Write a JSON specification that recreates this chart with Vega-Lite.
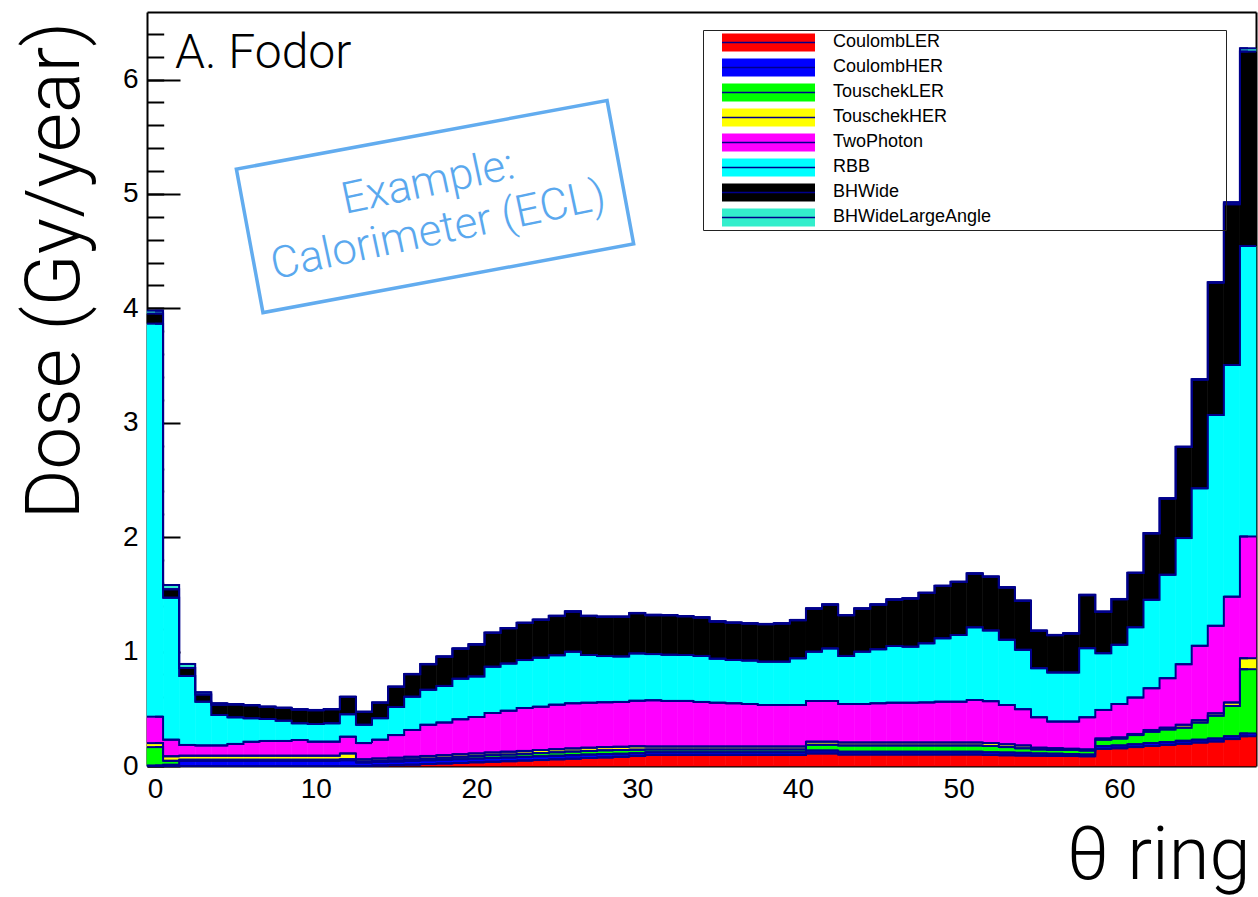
{
  "$schema": "https://vega.github.io/schema/vega-lite/v6.json",
  "width": 1109,
  "height": 754,
  "autosize": {"type": "none"},
  "padding": {"left": 147, "top": 12, "right": 2, "bottom": 131},
  "background": "white",
  "config": {
    "view": {"stroke": null},
    "axis": {"zindex": 1, "grid": false, "tickColor": "black", "domainColor": "black", "labelColor": "black", "titleColor": "black", "labelFont": "Liberation Sans", "titleFont": "Roboto"}
  },
  "datasets": {
    "dose": [
      {"ring":0,"source":"CoulombLER","dose":0},{"ring":1,"source":"CoulombLER","dose":0},{"ring":2,"source":"CoulombLER","dose":0},{"ring":3,"source":"CoulombLER","dose":0},{"ring":4,"source":"CoulombLER","dose":0},{"ring":5,"source":"CoulombLER","dose":0},{"ring":6,"source":"CoulombLER","dose":0},{"ring":7,"source":"CoulombLER","dose":0},{"ring":8,"source":"CoulombLER","dose":0},{"ring":9,"source":"CoulombLER","dose":0},
      {"ring":10,"source":"CoulombLER","dose":0},{"ring":11,"source":"CoulombLER","dose":0},{"ring":12,"source":"CoulombLER","dose":0},{"ring":13,"source":"CoulombLER","dose":0},{"ring":14,"source":"CoulombLER","dose":0.005},{"ring":15,"source":"CoulombLER","dose":0.008},{"ring":16,"source":"CoulombLER","dose":0.012},{"ring":17,"source":"CoulombLER","dose":0.017},{"ring":18,"source":"CoulombLER","dose":0.022},{"ring":19,"source":"CoulombLER","dose":0.027},
      {"ring":20,"source":"CoulombLER","dose":0.032},{"ring":21,"source":"CoulombLER","dose":0.037},{"ring":22,"source":"CoulombLER","dose":0.042},{"ring":23,"source":"CoulombLER","dose":0.047},{"ring":24,"source":"CoulombLER","dose":0.052},{"ring":25,"source":"CoulombLER","dose":0.058},{"ring":26,"source":"CoulombLER","dose":0.064},{"ring":27,"source":"CoulombLER","dose":0.07},{"ring":28,"source":"CoulombLER","dose":0.075},{"ring":29,"source":"CoulombLER","dose":0.08},
      {"ring":30,"source":"CoulombLER","dose":0.087},{"ring":31,"source":"CoulombLER","dose":0.096},{"ring":32,"source":"CoulombLER","dose":0.096},{"ring":33,"source":"CoulombLER","dose":0.096},{"ring":34,"source":"CoulombLER","dose":0.096},{"ring":35,"source":"CoulombLER","dose":0.096},{"ring":36,"source":"CoulombLER","dose":0.096},{"ring":37,"source":"CoulombLER","dose":0.096},{"ring":38,"source":"CoulombLER","dose":0.096},{"ring":39,"source":"CoulombLER","dose":0.096},
      {"ring":40,"source":"CoulombLER","dose":0.096},{"ring":41,"source":"CoulombLER","dose":0.11},{"ring":42,"source":"CoulombLER","dose":0.11},{"ring":43,"source":"CoulombLER","dose":0.1},{"ring":44,"source":"CoulombLER","dose":0.1},{"ring":45,"source":"CoulombLER","dose":0.1},{"ring":46,"source":"CoulombLER","dose":0.1},{"ring":47,"source":"CoulombLER","dose":0.1},{"ring":48,"source":"CoulombLER","dose":0.1},{"ring":49,"source":"CoulombLER","dose":0.1},
      {"ring":50,"source":"CoulombLER","dose":0.1},{"ring":51,"source":"CoulombLER","dose":0.1},{"ring":52,"source":"CoulombLER","dose":0.096},{"ring":53,"source":"CoulombLER","dose":0.094},{"ring":54,"source":"CoulombLER","dose":0.092},{"ring":55,"source":"CoulombLER","dose":0.09},{"ring":56,"source":"CoulombLER","dose":0.088},{"ring":57,"source":"CoulombLER","dose":0.087},{"ring":58,"source":"CoulombLER","dose":0.085},{"ring":59,"source":"CoulombLER","dose":0.15},
      {"ring":60,"source":"CoulombLER","dose":0.155},{"ring":61,"source":"CoulombLER","dose":0.165},{"ring":62,"source":"CoulombLER","dose":0.175},{"ring":63,"source":"CoulombLER","dose":0.185},{"ring":64,"source":"CoulombLER","dose":0.195},{"ring":65,"source":"CoulombLER","dose":0.205},{"ring":66,"source":"CoulombLER","dose":0.215},{"ring":67,"source":"CoulombLER","dose":0.235},{"ring":68,"source":"CoulombLER","dose":0.26},

      {"ring":0,"source":"CoulombHER","dose":0.005},{"ring":1,"source":"CoulombHER","dose":0.01},{"ring":2,"source":"CoulombHER","dose":0.045},{"ring":3,"source":"CoulombHER","dose":0.045},{"ring":4,"source":"CoulombHER","dose":0.045},{"ring":5,"source":"CoulombHER","dose":0.045},{"ring":6,"source":"CoulombHER","dose":0.045},{"ring":7,"source":"CoulombHER","dose":0.045},{"ring":8,"source":"CoulombHER","dose":0.045},{"ring":9,"source":"CoulombHER","dose":0.045},
      {"ring":10,"source":"CoulombHER","dose":0.045},{"ring":11,"source":"CoulombHER","dose":0.045},{"ring":12,"source":"CoulombHER","dose":0.05},{"ring":13,"source":"CoulombHER","dose":0.03},{"ring":14,"source":"CoulombHER","dose":0.03},{"ring":15,"source":"CoulombHER","dose":0.032},{"ring":16,"source":"CoulombHER","dose":0.033},{"ring":17,"source":"CoulombHER","dose":0.033},{"ring":18,"source":"CoulombHER","dose":0.033},{"ring":19,"source":"CoulombHER","dose":0.033},
      {"ring":20,"source":"CoulombHER","dose":0.033},{"ring":21,"source":"CoulombHER","dose":0.033},{"ring":22,"source":"CoulombHER","dose":0.033},{"ring":23,"source":"CoulombHER","dose":0.033},{"ring":24,"source":"CoulombHER","dose":0.033},{"ring":25,"source":"CoulombHER","dose":0.032},{"ring":26,"source":"CoulombHER","dose":0.031},{"ring":27,"source":"CoulombHER","dose":0.03},{"ring":28,"source":"CoulombHER","dose":0.029},{"ring":29,"source":"CoulombHER","dose":0.027},
      {"ring":30,"source":"CoulombHER","dose":0.025},{"ring":31,"source":"CoulombHER","dose":0.024},{"ring":32,"source":"CoulombHER","dose":0.024},{"ring":33,"source":"CoulombHER","dose":0.024},{"ring":34,"source":"CoulombHER","dose":0.024},{"ring":35,"source":"CoulombHER","dose":0.024},{"ring":36,"source":"CoulombHER","dose":0.024},{"ring":37,"source":"CoulombHER","dose":0.024},{"ring":38,"source":"CoulombHER","dose":0.024},{"ring":39,"source":"CoulombHER","dose":0.024},
      {"ring":40,"source":"CoulombHER","dose":0.024},{"ring":41,"source":"CoulombHER","dose":0.025},{"ring":42,"source":"CoulombHER","dose":0.025},{"ring":43,"source":"CoulombHER","dose":0.025},{"ring":44,"source":"CoulombHER","dose":0.025},{"ring":45,"source":"CoulombHER","dose":0.025},{"ring":46,"source":"CoulombHER","dose":0.025},{"ring":47,"source":"CoulombHER","dose":0.025},{"ring":48,"source":"CoulombHER","dose":0.025},{"ring":49,"source":"CoulombHER","dose":0.025},
      {"ring":50,"source":"CoulombHER","dose":0.025},{"ring":51,"source":"CoulombHER","dose":0.025},{"ring":52,"source":"CoulombHER","dose":0.024},{"ring":53,"source":"CoulombHER","dose":0.024},{"ring":54,"source":"CoulombHER","dose":0.023},{"ring":55,"source":"CoulombHER","dose":0.02},{"ring":56,"source":"CoulombHER","dose":0.02},{"ring":57,"source":"CoulombHER","dose":0.018},{"ring":58,"source":"CoulombHER","dose":0.015},{"ring":59,"source":"CoulombHER","dose":0.025},
      {"ring":60,"source":"CoulombHER","dose":0.025},{"ring":61,"source":"CoulombHER","dose":0.025},{"ring":62,"source":"CoulombHER","dose":0.025},{"ring":63,"source":"CoulombHER","dose":0.025},{"ring":64,"source":"CoulombHER","dose":0.025},{"ring":65,"source":"CoulombHER","dose":0.025},{"ring":66,"source":"CoulombHER","dose":0.025},{"ring":67,"source":"CoulombHER","dose":0.025},{"ring":68,"source":"CoulombHER","dose":0.025},

      {"ring":0,"source":"TouschekLER","dose":0.16},{"ring":1,"source":"TouschekLER","dose":0.035},{"ring":2,"source":"TouschekLER","dose":0.01},{"ring":3,"source":"TouschekLER","dose":0.01},{"ring":4,"source":"TouschekLER","dose":0.01},{"ring":5,"source":"TouschekLER","dose":0.01},{"ring":6,"source":"TouschekLER","dose":0.01},{"ring":7,"source":"TouschekLER","dose":0.01},{"ring":8,"source":"TouschekLER","dose":0.01},{"ring":9,"source":"TouschekLER","dose":0.01},
      {"ring":10,"source":"TouschekLER","dose":0.01},{"ring":11,"source":"TouschekLER","dose":0.01},{"ring":12,"source":"TouschekLER","dose":0.01},{"ring":13,"source":"TouschekLER","dose":0.01},{"ring":14,"source":"TouschekLER","dose":0.01},{"ring":15,"source":"TouschekLER","dose":0.01},{"ring":16,"source":"TouschekLER","dose":0.013},{"ring":17,"source":"TouschekLER","dose":0.015},{"ring":18,"source":"TouschekLER","dose":0.017},{"ring":19,"source":"TouschekLER","dose":0.02},
      {"ring":20,"source":"TouschekLER","dose":0.023},{"ring":21,"source":"TouschekLER","dose":0.025},{"ring":22,"source":"TouschekLER","dose":0.025},{"ring":23,"source":"TouschekLER","dose":0.027},{"ring":24,"source":"TouschekLER","dose":0.028},{"ring":25,"source":"TouschekLER","dose":0.03},{"ring":26,"source":"TouschekLER","dose":0.031},{"ring":27,"source":"TouschekLER","dose":0.032},{"ring":28,"source":"TouschekLER","dose":0.033},{"ring":29,"source":"TouschekLER","dose":0.033},
      {"ring":30,"source":"TouschekLER","dose":0.031},{"ring":31,"source":"TouschekLER","dose":0.025},{"ring":32,"source":"TouschekLER","dose":0.025},{"ring":33,"source":"TouschekLER","dose":0.025},{"ring":34,"source":"TouschekLER","dose":0.025},{"ring":35,"source":"TouschekLER","dose":0.025},{"ring":36,"source":"TouschekLER","dose":0.025},{"ring":37,"source":"TouschekLER","dose":0.025},{"ring":38,"source":"TouschekLER","dose":0.025},{"ring":39,"source":"TouschekLER","dose":0.025},
      {"ring":40,"source":"TouschekLER","dose":0.025},{"ring":41,"source":"TouschekLER","dose":0.05},{"ring":42,"source":"TouschekLER","dose":0.05},{"ring":43,"source":"TouschekLER","dose":0.055},{"ring":44,"source":"TouschekLER","dose":0.055},{"ring":45,"source":"TouschekLER","dose":0.055},{"ring":46,"source":"TouschekLER","dose":0.055},{"ring":47,"source":"TouschekLER","dose":0.055},{"ring":48,"source":"TouschekLER","dose":0.055},{"ring":49,"source":"TouschekLER","dose":0.055},
      {"ring":50,"source":"TouschekLER","dose":0.055},{"ring":51,"source":"TouschekLER","dose":0.055},{"ring":52,"source":"TouschekLER","dose":0.055},{"ring":53,"source":"TouschekLER","dose":0.047},{"ring":54,"source":"TouschekLER","dose":0.04},{"ring":55,"source":"TouschekLER","dose":0.035},{"ring":56,"source":"TouschekLER","dose":0.032},{"ring":57,"source":"TouschekLER","dose":0.035},{"ring":58,"source":"TouschekLER","dose":0.035},{"ring":59,"source":"TouschekLER","dose":0.055},
      {"ring":60,"source":"TouschekLER","dose":0.06},{"ring":61,"source":"TouschekLER","dose":0.08},{"ring":62,"source":"TouschekLER","dose":0.1},{"ring":63,"source":"TouschekLER","dose":0.11},{"ring":64,"source":"TouschekLER","dose":0.115},{"ring":65,"source":"TouschekLER","dose":0.15},{"ring":66,"source":"TouschekLER","dose":0.2},{"ring":67,"source":"TouschekLER","dose":0.265},{"ring":68,"source":"TouschekLER","dose":0.561},

      {"ring":0,"source":"TouschekHER","dose":0.035},{"ring":1,"source":"TouschekHER","dose":0.04},{"ring":2,"source":"TouschekHER","dose":0.035},{"ring":3,"source":"TouschekHER","dose":0.035},{"ring":4,"source":"TouschekHER","dose":0.035},{"ring":5,"source":"TouschekHER","dose":0.035},{"ring":6,"source":"TouschekHER","dose":0.035},{"ring":7,"source":"TouschekHER","dose":0.035},{"ring":8,"source":"TouschekHER","dose":0.035},{"ring":9,"source":"TouschekHER","dose":0.035},
      {"ring":10,"source":"TouschekHER","dose":0.035},{"ring":11,"source":"TouschekHER","dose":0.035},{"ring":12,"source":"TouschekHER","dose":0.05},{"ring":13,"source":"TouschekHER","dose":0.018},{"ring":14,"source":"TouschekHER","dose":0.02},{"ring":15,"source":"TouschekHER","dose":0.022},{"ring":16,"source":"TouschekHER","dose":0.022},{"ring":17,"source":"TouschekHER","dose":0.023},{"ring":18,"source":"TouschekHER","dose":0.023},{"ring":19,"source":"TouschekHER","dose":0.023},
      {"ring":20,"source":"TouschekHER","dose":0.022},{"ring":21,"source":"TouschekHER","dose":0.023},{"ring":22,"source":"TouschekHER","dose":0.025},{"ring":23,"source":"TouschekHER","dose":0.025},{"ring":24,"source":"TouschekHER","dose":0.027},{"ring":25,"source":"TouschekHER","dose":0.027},{"ring":26,"source":"TouschekHER","dose":0.028},{"ring":27,"source":"TouschekHER","dose":0.028},{"ring":28,"source":"TouschekHER","dose":0.028},{"ring":29,"source":"TouschekHER","dose":0.028},
      {"ring":30,"source":"TouschekHER","dose":0.029},{"ring":31,"source":"TouschekHER","dose":0.025},{"ring":32,"source":"TouschekHER","dose":0.025},{"ring":33,"source":"TouschekHER","dose":0.025},{"ring":34,"source":"TouschekHER","dose":0.025},{"ring":35,"source":"TouschekHER","dose":0.025},{"ring":36,"source":"TouschekHER","dose":0.025},{"ring":37,"source":"TouschekHER","dose":0.025},{"ring":38,"source":"TouschekHER","dose":0.025},{"ring":39,"source":"TouschekHER","dose":0.025},
      {"ring":40,"source":"TouschekHER","dose":0.025},{"ring":41,"source":"TouschekHER","dose":0.028},{"ring":42,"source":"TouschekHER","dose":0.028},{"ring":43,"source":"TouschekHER","dose":0.025},{"ring":44,"source":"TouschekHER","dose":0.025},{"ring":45,"source":"TouschekHER","dose":0.025},{"ring":46,"source":"TouschekHER","dose":0.025},{"ring":47,"source":"TouschekHER","dose":0.025},{"ring":48,"source":"TouschekHER","dose":0.025},{"ring":49,"source":"TouschekHER","dose":0.025},
      {"ring":50,"source":"TouschekHER","dose":0.025},{"ring":51,"source":"TouschekHER","dose":0.025},{"ring":52,"source":"TouschekHER","dose":0.025},{"ring":53,"source":"TouschekHER","dose":0.025},{"ring":54,"source":"TouschekHER","dose":0.025},{"ring":55,"source":"TouschekHER","dose":0.015},{"ring":56,"source":"TouschekHER","dose":0.015},{"ring":57,"source":"TouschekHER","dose":0.01},{"ring":58,"source":"TouschekHER","dose":0.01},{"ring":59,"source":"TouschekHER","dose":0.01},
      {"ring":60,"source":"TouschekHER","dose":0.01},{"ring":61,"source":"TouschekHER","dose":0.01},{"ring":62,"source":"TouschekHER","dose":0.015},{"ring":63,"source":"TouschekHER","dose":0.015},{"ring":64,"source":"TouschekHER","dose":0.025},{"ring":65,"source":"TouschekHER","dose":0.02},{"ring":66,"source":"TouschekHER","dose":0.02},{"ring":67,"source":"TouschekHER","dose":0.03},{"ring":68,"source":"TouschekHER","dose":0.096},

      {"ring":0,"source":"TwoPhoton","dose":0.231},{"ring":1,"source":"TwoPhoton","dose":0.145},{"ring":2,"source":"TwoPhoton","dose":0.094},{"ring":3,"source":"TwoPhoton","dose":0.09},{"ring":4,"source":"TwoPhoton","dose":0.09},{"ring":5,"source":"TwoPhoton","dose":0.103},{"ring":6,"source":"TwoPhoton","dose":0.121},{"ring":7,"source":"TwoPhoton","dose":0.129},{"ring":8,"source":"TwoPhoton","dose":0.129},{"ring":9,"source":"TwoPhoton","dose":0.137},
      {"ring":10,"source":"TwoPhoton","dose":0.123},{"ring":11,"source":"TwoPhoton","dose":0.123},{"ring":12,"source":"TwoPhoton","dose":0.146},{"ring":13,"source":"TwoPhoton","dose":0.142},{"ring":14,"source":"TwoPhoton","dose":0.165},{"ring":15,"source":"TwoPhoton","dose":0.198},{"ring":16,"source":"TwoPhoton","dose":0.235},{"ring":17,"source":"TwoPhoton","dose":0.272},{"ring":18,"source":"TwoPhoton","dose":0.285},{"ring":19,"source":"TwoPhoton","dose":0.305},
      {"ring":20,"source":"TwoPhoton","dose":0.318},{"ring":21,"source":"TwoPhoton","dose":0.345},{"ring":22,"source":"TwoPhoton","dose":0.358},{"ring":23,"source":"TwoPhoton","dose":0.375},{"ring":24,"source":"TwoPhoton","dose":0.378},{"ring":25,"source":"TwoPhoton","dose":0.389},{"ring":26,"source":"TwoPhoton","dose":0.394},{"ring":27,"source":"TwoPhoton","dose":0.393},{"ring":28,"source":"TwoPhoton","dose":0.392},{"ring":29,"source":"TwoPhoton","dose":0.392},
      {"ring":30,"source":"TwoPhoton","dose":0.398},{"ring":31,"source":"TwoPhoton","dose":0.404},{"ring":32,"source":"TwoPhoton","dose":0.399},{"ring":33,"source":"TwoPhoton","dose":0.399},{"ring":34,"source":"TwoPhoton","dose":0.39},{"ring":35,"source":"TwoPhoton","dose":0.383},{"ring":36,"source":"TwoPhoton","dose":0.378},{"ring":37,"source":"TwoPhoton","dose":0.372},{"ring":38,"source":"TwoPhoton","dose":0.363},{"ring":39,"source":"TwoPhoton","dose":0.363},
      {"ring":40,"source":"TwoPhoton","dose":0.363},{"ring":41,"source":"TwoPhoton","dose":0.355},{"ring":42,"source":"TwoPhoton","dose":0.355},{"ring":43,"source":"TwoPhoton","dose":0.337},{"ring":44,"source":"TwoPhoton","dose":0.337},{"ring":45,"source":"TwoPhoton","dose":0.343},{"ring":46,"source":"TwoPhoton","dose":0.348},{"ring":47,"source":"TwoPhoton","dose":0.348},{"ring":48,"source":"TwoPhoton","dose":0.351},{"ring":49,"source":"TwoPhoton","dose":0.357},
      {"ring":50,"source":"TwoPhoton","dose":0.357},{"ring":51,"source":"TwoPhoton","dose":0.372},{"ring":52,"source":"TwoPhoton","dose":0.367},{"ring":53,"source":"TwoPhoton","dose":0.343},{"ring":54,"source":"TwoPhoton","dose":0.317},{"ring":55,"source":"TwoPhoton","dose":0.266},{"ring":56,"source":"TwoPhoton","dose":0.233},{"ring":57,"source":"TwoPhoton","dose":0.238},{"ring":58,"source":"TwoPhoton","dose":0.281},{"ring":59,"source":"TwoPhoton","dose":0.25},
      {"ring":60,"source":"TwoPhoton","dose":0.292},{"ring":61,"source":"TwoPhoton","dose":0.318},{"ring":62,"source":"TwoPhoton","dose":0.365},{"ring":63,"source":"TwoPhoton","dose":0.433},{"ring":64,"source":"TwoPhoton","dose":0.53},{"ring":65,"source":"TwoPhoton","dose":0.65},{"ring":66,"source":"TwoPhoton","dose":0.765},{"ring":67,"source":"TwoPhoton","dose":0.925},{"ring":68,"source":"TwoPhoton","dose":1.064},

      {"ring":0,"source":"RBB","dose":3.435},{"ring":1,"source":"RBB","dose":1.241},{"ring":2,"source":"RBB","dose":0.603},{"ring":3,"source":"RBB","dose":0.382},{"ring":4,"source":"RBB","dose":0.266},{"ring":5,"source":"RBB","dose":0.232},{"ring":6,"source":"RBB","dose":0.206},{"ring":7,"source":"RBB","dose":0.192},{"ring":8,"source":"RBB","dose":0.177},{"ring":9,"source":"RBB","dose":0.146},
      {"ring":10,"source":"RBB","dose":0.154},{"ring":11,"source":"RBB","dose":0.16},{"ring":12,"source":"RBB","dose":0.196},{"ring":13,"source":"RBB","dose":0.16},{"ring":14,"source":"RBB","dose":0.188},{"ring":15,"source":"RBB","dose":0.246},{"ring":16,"source":"RBB","dose":0.291},{"ring":17,"source":"RBB","dose":0.306},{"ring":18,"source":"RBB","dose":0.32},{"ring":19,"source":"RBB","dose":0.355},
      {"ring":20,"source":"RBB","dose":0.355},{"ring":21,"source":"RBB","dose":0.405},{"ring":22,"source":"RBB","dose":0.412},{"ring":23,"source":"RBB","dose":0.419},{"ring":24,"source":"RBB","dose":0.429},{"ring":25,"source":"RBB","dose":0.432},{"ring":26,"source":"RBB","dose":0.451},{"ring":27,"source":"RBB","dose":0.417},{"ring":28,"source":"RBB","dose":0.404},{"ring":29,"source":"RBB","dose":0.398},
      {"ring":30,"source":"RBB","dose":0.414},{"ring":31,"source":"RBB","dose":0.404},{"ring":32,"source":"RBB","dose":0.403},{"ring":33,"source":"RBB","dose":0.401},{"ring":34,"source":"RBB","dose":0.402},{"ring":35,"source":"RBB","dose":0.385},{"ring":36,"source":"RBB","dose":0.379},{"ring":37,"source":"RBB","dose":0.379},{"ring":38,"source":"RBB","dose":0.379},{"ring":39,"source":"RBB","dose":0.379},
      {"ring":40,"source":"RBB","dose":0.408},{"ring":41,"source":"RBB","dose":0.431},{"ring":42,"source":"RBB","dose":0.46},{"ring":43,"source":"RBB","dose":0.42},{"ring":44,"source":"RBB","dose":0.457},{"ring":45,"source":"RBB","dose":0.472},{"ring":46,"source":"RBB","dose":0.496},{"ring":47,"source":"RBB","dose":0.49},{"ring":48,"source":"RBB","dose":0.516},{"ring":49,"source":"RBB","dose":0.554},
      {"ring":50,"source":"RBB","dose":0.583},{"ring":51,"source":"RBB","dose":0.635},{"ring":52,"source":"RBB","dose":0.618},{"ring":53,"source":"RBB","dose":0.57},{"ring":54,"source":"RBB","dose":0.518},{"ring":55,"source":"RBB","dose":0.429},{"ring":56,"source":"RBB","dose":0.429},{"ring":57,"source":"RBB","dose":0.429},{"ring":58,"source":"RBB","dose":0.604},{"ring":59,"source":"RBB","dose":0.496},
      {"ring":60,"source":"RBB","dose":0.517},{"ring":61,"source":"RBB","dose":0.615},{"ring":62,"source":"RBB","dose":0.772},{"ring":63,"source":"RBB","dose":0.903},{"ring":64,"source":"RBB","dose":1.102},{"ring":65,"source":"RBB","dose":1.377},{"ring":66,"source":"RBB","dose":1.843},{"ring":67,"source":"RBB","dose":2.025},{"ring":68,"source":"RBB","dose":2.539},

      {"ring":0,"source":"BHWide","dose":0.088},{"ring":1,"source":"BHWide","dose":0.074},{"ring":2,"source":"BHWide","dose":0.07},{"ring":3,"source":"BHWide","dose":0.063},{"ring":4,"source":"BHWide","dose":0.089},{"ring":5,"source":"BHWide","dose":0.112},{"ring":6,"source":"BHWide","dose":0.113},{"ring":7,"source":"BHWide","dose":0.105},{"ring":8,"source":"BHWide","dose":0.111},{"ring":9,"source":"BHWide","dose":0.12},
      {"ring":10,"source":"BHWide","dose":0.12},{"ring":11,"source":"BHWide","dose":0.122},{"ring":12,"source":"BHWide","dose":0.151},{"ring":13,"source":"BHWide","dose":0.112},{"ring":14,"source":"BHWide","dose":0.134},{"ring":15,"source":"BHWide","dose":0.175},{"ring":16,"source":"BHWide","dose":0.196},{"ring":17,"source":"BHWide","dose":0.223},{"ring":18,"source":"BHWide","dose":0.255},{"ring":19,"source":"BHWide","dose":0.262},
      {"ring":20,"source":"BHWide","dose":0.279},{"ring":21,"source":"BHWide","dose":0.295},{"ring":22,"source":"BHWide","dose":0.308},{"ring":23,"source":"BHWide","dose":0.324},{"ring":24,"source":"BHWide","dose":0.33},{"ring":25,"source":"BHWide","dose":0.342},{"ring":26,"source":"BHWide","dose":0.35},{"ring":27,"source":"BHWide","dose":0.34},{"ring":28,"source":"BHWide","dose":0.342},{"ring":29,"source":"BHWide","dose":0.345},
      {"ring":30,"source":"BHWide","dose":0.351},{"ring":31,"source":"BHWide","dose":0.34},{"ring":32,"source":"BHWide","dose":0.345},{"ring":33,"source":"BHWide","dose":0.338},{"ring":34,"source":"BHWide","dose":0.335},{"ring":35,"source":"BHWide","dose":0.324},{"ring":36,"source":"BHWide","dose":0.324},{"ring":37,"source":"BHWide","dose":0.324},{"ring":38,"source":"BHWide","dose":0.327},{"ring":39,"source":"BHWide","dose":0.333},
      {"ring":40,"source":"BHWide","dose":0.333},{"ring":41,"source":"BHWide","dose":0.376},{"ring":42,"source":"BHWide","dose":0.382},{"ring":43,"source":"BHWide","dose":0.355},{"ring":44,"source":"BHWide","dose":0.376},{"ring":45,"source":"BHWide","dose":0.39},{"ring":46,"source":"BHWide","dose":0.405},{"ring":47,"source":"BHWide","dose":0.42},{"ring":48,"source":"BHWide","dose":0.44},{"ring":49,"source":"BHWide","dose":0.457},
      {"ring":50,"source":"BHWide","dose":0.463},{"ring":51,"source":"BHWide","dose":0.469},{"ring":52,"source":"BHWide","dose":0.468},{"ring":53,"source":"BHWide","dose":0.457},{"ring":54,"source":"BHWide","dose":0.428},{"ring":55,"source":"BHWide","dose":0.326},{"ring":56,"source":"BHWide","dose":0.326},{"ring":57,"source":"BHWide","dose":0.34},{"ring":58,"source":"BHWide","dose":0.463},{"ring":59,"source":"BHWide","dose":0.361},
      {"ring":60,"source":"BHWide","dose":0.398},{"ring":61,"source":"BHWide","dose":0.474},{"ring":62,"source":"BHWide","dose":0.581},{"ring":63,"source":"BHWide","dose":0.666},{"ring":64,"source":"BHWide","dose":0.796},{"ring":65,"source":"BHWide","dose":0.95},{"ring":66,"source":"BHWide","dose":1.157},{"ring":67,"source":"BHWide","dose":1.405},{"ring":68,"source":"BHWide","dose":1.699},

      {"ring":0,"source":"BHWideLargeAngle","dose":0.026},{"ring":1,"source":"BHWideLargeAngle","dose":0.037},{"ring":2,"source":"BHWideLargeAngle","dose":0.035},{"ring":3,"source":"BHWideLargeAngle","dose":0.019},{"ring":4,"source":"BHWideLargeAngle","dose":0.013},{"ring":5,"source":"BHWideLargeAngle","dose":0.005},{"ring":6,"source":"BHWideLargeAngle","dose":0.003},{"ring":7,"source":"BHWideLargeAngle","dose":0.003},{"ring":8,"source":"BHWideLargeAngle","dose":0.003},{"ring":9,"source":"BHWideLargeAngle","dose":0.003},
      {"ring":10,"source":"BHWideLargeAngle","dose":0.003},{"ring":11,"source":"BHWideLargeAngle","dose":0.003},{"ring":12,"source":"BHWideLargeAngle","dose":0.003},{"ring":13,"source":"BHWideLargeAngle","dose":0.003},{"ring":14,"source":"BHWideLargeAngle","dose":0.003},{"ring":15,"source":"BHWideLargeAngle","dose":0.003},{"ring":16,"source":"BHWideLargeAngle","dose":0.003},{"ring":17,"source":"BHWideLargeAngle","dose":0.003},{"ring":18,"source":"BHWideLargeAngle","dose":0.003},{"ring":19,"source":"BHWideLargeAngle","dose":0.003},
      {"ring":20,"source":"BHWideLargeAngle","dose":0.003},{"ring":21,"source":"BHWideLargeAngle","dose":0.003},{"ring":22,"source":"BHWideLargeAngle","dose":0.003},{"ring":23,"source":"BHWideLargeAngle","dose":0.003},{"ring":24,"source":"BHWideLargeAngle","dose":0.003},{"ring":25,"source":"BHWideLargeAngle","dose":0.003},{"ring":26,"source":"BHWideLargeAngle","dose":0.003},{"ring":27,"source":"BHWideLargeAngle","dose":0.003},{"ring":28,"source":"BHWideLargeAngle","dose":0.003},{"ring":29,"source":"BHWideLargeAngle","dose":0.003},
      {"ring":30,"source":"BHWideLargeAngle","dose":0.003},{"ring":31,"source":"BHWideLargeAngle","dose":0.003},{"ring":32,"source":"BHWideLargeAngle","dose":0.003},{"ring":33,"source":"BHWideLargeAngle","dose":0.003},{"ring":34,"source":"BHWideLargeAngle","dose":0.003},{"ring":35,"source":"BHWideLargeAngle","dose":0.003},{"ring":36,"source":"BHWideLargeAngle","dose":0.003},{"ring":37,"source":"BHWideLargeAngle","dose":0.003},{"ring":38,"source":"BHWideLargeAngle","dose":0.003},{"ring":39,"source":"BHWideLargeAngle","dose":0.003},
      {"ring":40,"source":"BHWideLargeAngle","dose":0.003},{"ring":41,"source":"BHWideLargeAngle","dose":0.003},{"ring":42,"source":"BHWideLargeAngle","dose":0.003},{"ring":43,"source":"BHWideLargeAngle","dose":0.003},{"ring":44,"source":"BHWideLargeAngle","dose":0.003},{"ring":45,"source":"BHWideLargeAngle","dose":0.003},{"ring":46,"source":"BHWideLargeAngle","dose":0.003},{"ring":47,"source":"BHWideLargeAngle","dose":0.003},{"ring":48,"source":"BHWideLargeAngle","dose":0.003},{"ring":49,"source":"BHWideLargeAngle","dose":0.003},
      {"ring":50,"source":"BHWideLargeAngle","dose":0.003},{"ring":51,"source":"BHWideLargeAngle","dose":0.003},{"ring":52,"source":"BHWideLargeAngle","dose":0.003},{"ring":53,"source":"BHWideLargeAngle","dose":0.003},{"ring":54,"source":"BHWideLargeAngle","dose":0.003},{"ring":55,"source":"BHWideLargeAngle","dose":0.003},{"ring":56,"source":"BHWideLargeAngle","dose":0.003},{"ring":57,"source":"BHWideLargeAngle","dose":0.003},{"ring":58,"source":"BHWideLargeAngle","dose":0.003},{"ring":59,"source":"BHWideLargeAngle","dose":0.003},
      {"ring":60,"source":"BHWideLargeAngle","dose":0.003},{"ring":61,"source":"BHWideLargeAngle","dose":0.003},{"ring":62,"source":"BHWideLargeAngle","dose":0.003},{"ring":63,"source":"BHWideLargeAngle","dose":0.003},{"ring":64,"source":"BHWideLargeAngle","dose":0.003},{"ring":65,"source":"BHWideLargeAngle","dose":0.003},{"ring":66,"source":"BHWideLargeAngle","dose":0.003},{"ring":67,"source":"BHWideLargeAngle","dose":0.017},{"ring":68,"source":"BHWideLargeAngle","dose":0.029}
    ]
  },
  "data": {"name": "dose"},
  "transform": [
    {"calculate": "indexof(['CoulombLER','CoulombHER','TouschekLER','TouschekHER','TwoPhoton','RBB','BHWide','BHWideLargeAngle'], datum.source)", "as": "order"},
    {"stack": "dose", "groupby": ["ring"], "sort": [{"field": "order", "order": "ascending"}], "as": ["lo", "hi"]},
    {"calculate": "datum.ring - 0.5", "as": "edgeLo"},
    {"calculate": "datum.ring + 0.5", "as": "edgeHi"}
  ],
  "layer": [
    {
      "mark": {"type": "bar", "strokeWidth": 0.6},
      "encoding": {
        "x": {"field": "edgeLo", "type": "quantitative", "scale": {"domain": [-0.5, 68.5], "nice": false, "zero": false},
          "axis": {"orient": "bottom", "values": [0, 10, 20, 30, 40, 50, 60], "format": "d", "tickSize": -22, "tickWidth": 2, "domainWidth": 2,
            "labelFontSize": 28, "labelPadding": 31, "labelFlush": false, "labelOverlap": false,
            "title": "θ ring", "titleFontSize": 74, "titleFontWeight": 300, "titleX": 1103, "titleY": 112, "titleAlign": "right", "titleBaseline": "alphabetic", "titleAngle": 0}},
        "x2": {"field": "edgeHi"},
        "y": {"field": "lo", "type": "quantitative", "scale": {"domain": [0, 6.59], "nice": false, "zero": true},
          "axis": {"orient": "left", "values": [0, 1, 2, 3, 4, 5, 6], "format": "d", "tickSize": -33, "tickWidth": 2, "domainWidth": 2,
            "labelFontSize": 28, "labelPadding": 42, "labelFlush": false, "labelOverlap": false,
            "title": "Dose (Gy/year)", "titleFontSize": 76, "titleFontWeight": 300, "titleX": -69, "titleY": 258, "titleAlign": "center", "titleBaseline": "alphabetic", "titleAngle": 270}},
        "y2": {"field": "hi"},
        "fill": {"field": "source", "type": "nominal",
          "scale": {"domain": ["CoulombLER", "CoulombHER", "TouschekLER", "TouschekHER", "TwoPhoton", "RBB", "BHWide", "BHWideLargeAngle"],
                    "range": ["#ff0000", "#0000ff", "#00ff00", "#ffff00", "#ff00ff", "#00ffff", "#000000", "#33eecc"]},
          "legend": {"orient": "none", "legendX": 556, "legendY": 18, "title": null, "padding": 0, "rowPadding": 0,
            "clipHeight": 24.8, "symbolType": "M-1,-0.194L1,-0.194L1,0.194L-1,0.194Z", "symbolSize": 8649, "symbolOffset": 19,
            "symbolStrokeWidth": 0, "symbolOpacity": 1, "labelOffset": 18, "labelFont": "Liberation Sans", "labelFontSize": 18, "labelColor": "black",
            "labelLimit": 1000, "labelExpr": "datum.label + '\u2800\u2800\u2800\u2800\u2800\u2800\u2800\u2800\u2800\u2800\u2800\u2800\u2800\u2800\u2800\u2800\u2800\u2800'",
            "strokeColor": "#222222"}},
        "stroke": {"field": "source", "type": "nominal",
          "scale": {"domain": ["CoulombLER", "CoulombHER", "TouschekLER", "TouschekHER", "TwoPhoton", "RBB", "BHWide", "BHWideLargeAngle"],
                    "range": ["#ff0000", "#0000ff", "#00ff00", "#ffff00", "#ff00ff", "#00ffff", "#000000", "#33eecc"]}, "legend": null}
      }
    },
    {
      "mark": {"type": "rule", "color": "#00008b", "strokeWidth": 2},
      "encoding": {
        "x": {"field": "edgeLo", "type": "quantitative", "scale": {"domain": [-0.5, 68.5], "nice": false, "zero": false},
          "axis": {"orient": "top", "ticks": false, "labels": false, "domain": true, "domainWidth": 2, "title": null}},
        "x2": {"field": "edgeHi"},
        "y": {"field": "hi", "type": "quantitative", "scale": {"domain": [0, 6.59], "nice": false, "zero": true},
          "axis": {"orient": "right", "ticks": false, "labels": false, "domain": true, "domainWidth": 2, "title": null}}
      }
    },
    {
      "mark": {"type": "line", "interpolate": "step", "color": "#00008b", "strokeWidth": 2},
      "encoding": {
        "x": {"field": "ring", "type": "quantitative", "scale": {"domain": [-0.5, 68.5], "nice": false, "zero": false},
          "axis": {"orient": "bottom", "values": [0, 2, 4, 6, 8, 10, 12, 14, 16, 18, 20, 22, 24, 26, 28, 30, 32, 34, 36, 38, 40, 42, 44, 46, 48, 50, 52, 54, 56, 58, 60, 62, 64, 66, 68],
            "tickSize": -11, "tickWidth": 2, "labels": false, "domain": false, "title": null}},
        "y": {"field": "hi", "type": "quantitative", "scale": {"domain": [0, 6.59], "nice": false, "zero": true},
          "axis": {"orient": "left", "values": [0, 0.2, 0.4, 0.6, 0.8, 1, 1.2, 1.4, 1.6, 1.8, 2, 2.2, 2.4, 2.6, 2.8, 3, 3.2, 3.4, 3.6, 3.8, 4, 4.2, 4.4, 4.6, 4.8, 5, 5.2, 5.4, 5.6, 5.8, 6, 6.2, 6.4],
            "tickSize": -16.7, "tickWidth": 2, "labels": false, "domain": false, "title": null}},
        "strokeDash": {"field": "source", "type": "nominal",
          "scale": {"domain": ["BHWideLargeAngle", "BHWide", "RBB", "TwoPhoton", "TouschekHER", "TouschekLER", "CoulombHER", "CoulombLER"],
                    "range": [[1, 0], [1, 0], [1, 0], [1, 0], [1, 0], [1, 0], [1, 0], [1, 0]]},
          "legend": {"orient": "none", "legendX": 556, "legendY": 18, "title": null, "padding": 0, "rowPadding": 0,
            "values": ["CoulombLER", "CoulombHER", "TouschekLER", "TouschekHER", "TwoPhoton", "RBB", "BHWide", "BHWideLargeAngle"],
            "clipHeight": 24.8, "symbolType": "M-1,0L1,0", "symbolSize": 8649, "symbolOffset": 18,
            "symbolStrokeColor": "#00008b", "symbolStrokeWidth": 1.5, "symbolFillColor": "transparent", "symbolDash": [1, 0],
            "labelExpr": "''", "labelFontSize": 18}}
      }
    },
    {
      "data": {"values": [{"theta": 1.245, "dose": 6.1, "note": "A. Fodor"}]},
      "mark": {"type": "text", "font": "Roboto", "fontWeight": 300, "fontSize": 48, "align": "left", "baseline": "alphabetic", "color": "black"},
      "encoding": {
        "x": {"field": "theta", "type": "quantitative", "scale": {"domain": [-0.5, 68.5], "nice": false, "zero": false}, "axis": null},
        "y": {"field": "dose", "type": "quantitative", "scale": {"domain": [0, 6.59], "nice": false, "zero": true}, "axis": null},
        "text": {"field": "note"}
      }
    },
    {
      "data": {"values": [{"theta": 17.42, "dose": 4.89}]},
      "mark": {"type": "point", "shape": "M-1,-0.387L1,-0.387L1,0.387L-1,0.387Z", "size": 142129, "angle": 349.5, "filled": false, "stroke": "#62acef", "strokeWidth": 3.5, "opacity": 1},
      "encoding": {
        "x": {"field": "theta", "type": "quantitative", "scale": {"domain": [-0.5, 68.5], "nice": false, "zero": false}, "axis": null},
        "y": {"field": "dose", "type": "quantitative", "scale": {"domain": [0, 6.59], "nice": false, "zero": true}, "axis": null}
      }
    },
    {
      "data": {"values": [{"theta": 16.99, "dose": 5.095, "note": "Example:\nCalorimeter (ECL)"}]},
      "mark": {"type": "text", "font": "Roboto", "fontWeight": 300, "fontSize": 44, "align": "center", "baseline": "middle", "angle": 348, "lineBreak": "\n", "lineHeight": 49, "color": "#5aa8ee"},
      "encoding": {
        "x": {"field": "theta", "type": "quantitative", "scale": {"domain": [-0.5, 68.5], "nice": false, "zero": false}, "axis": null},
        "y": {"field": "dose", "type": "quantitative", "scale": {"domain": [0, 6.59], "nice": false, "zero": true}, "axis": null},
        "text": {"field": "note"}
      }
    }
  ],
  "resolve": {"axis": {"x": "independent", "y": "independent"}}
}
